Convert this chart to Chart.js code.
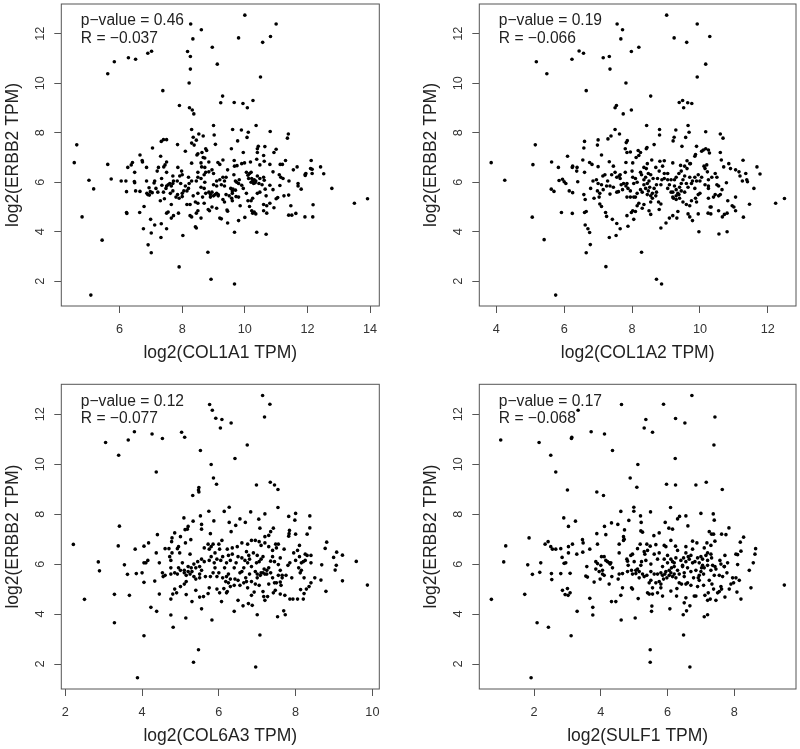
<!DOCTYPE html>
<html>
<head>
<meta charset="utf-8">
<script src="https://cdn.jsdelivr.net/npm/chart.js@4"></script>
<style>
body{margin:0;background:#fff;width:800px;height:749px;position:relative;overflow:hidden}
canvas{position:absolute}
</style>
</head>
<body>
<canvas id="c1" width="400" height="375" style="left:0;top:0"></canvas>
<canvas id="c2" width="400" height="375" style="left:400px;top:0"></canvas>
<canvas id="c3" width="400" height="374" style="left:0;top:375px"></canvas>
<canvas id="c4" width="400" height="374" style="left:400px;top:375px"></canvas>
<script>
// [gene TPM, ERBB2 TPM]
const col1a1 = [[10,12.75],[8.27,12.39],[8.61,12.16],[11,12.39],[10.82,11.89],[8.34,11.79],[9.8,11.83],[10.57,11.65],[8.96,11.45],[8.17,11.28],[8.26,11.08],[7.02,11.29],[6.9,11.21],[6.28,11.03],[6.51,10.97],[5.83,10.87],[9.12,10.77],[8.26,10.57],[5.62,10.38],[10.5,10.25],[8.22,10.01],[7.38,9.7],[9.29,9.48],[9.23,9.21],[9.66,9.22],[9.94,9.18],[10.26,9.3],[10.08,9.01],[7.91,9.1],[8.23,9.01],[8.32,8.92],[8.37,8.76],[9,8.29],[10.36,8.29],[9.61,8.13],[9.89,8.11],[8.3,8.13],[10.11,8.02],[10.81,8.05],[9.02,7.91],[8.53,7.95],[8.67,7.87],[8.35,7.82],[10.07,7.81],[11.39,7.95],[11.36,7.78],[9.77,7.67],
[8.3,7.58],[8.38,7.5],[8.45,7.7],[7.85,7.52],[7.33,7.65],[7.4,7.72],[7.5,7.72],[9.06,7.53],[10.43,7.45],[10.64,7.44],[10.4,7.35],[11,7.33],[9.57,7.35],[8.75,7.35],[8.78,7.28],[8.1,7.25],[8.5,7.15],[8.63,7.2],[9.95,7.2],[10.4,7.2],[10.93,7.2],[7.31,7.05],[8.47,7.1],[8.67,7],[8.72,6.98],[10.6,7.08],[10.38,6.93],[10.62,6.85],[9.66,6.88],[9.3,6.9],[9.14,6.8],[8.85,6.82],[8.3,6.77],[8.6,6.78],[7.5,6.82],[7.45,6.7],[7.41,6.62],[7.24,6.6],[7.86,6.6],[8.62,6.62],[8.72,6.6],[9.2,6.72],[9.67,6.65],[9.75,6.67],[9.9,6.75],[9.99,6.78],[10.18,6.82],[10.48,6.7],[10.8,6.72],[11.13,6.72],[11.2,6.72],[11.3,6.88],[11.67,6.62],[11.55,6.5],[12.12,6.88],[12.42,6.62],[12.1,6.55],[12.15,6.52],[11.93,6.32],[11.95,6.35],[12.15,6.35],[12.52,6.34],[12.78,5.75],[13.5,5.15],[13.92,5.33],[11.93,6.27],[11.41,6.05],[11.7,5.95],[11.7,5.85],[11.8,5.72],[11.1,6.3],[11.15,6.2],[11.22,6.15],[10.9,6.42],[10.62,6.08],[10.6,6.2],[10.48,6.15],[10.4,6.25],[10.3,6.1],[10.25,6.05],[10.22,6.15],[10.15,6.35],[10.05,6.4],[10.1,6.28],[10.2,6],[10.33,5.98],[10.45,5.95],[10.55,5.9],[10.8,5.88],[10.9,5.7],[11.12,5.87],[11.05,5.38],[11,5.33],[11.25,5.45],[11.4,5.48],[11.47,5.05],[11.4,4.67],[11.5,4.67],[11.63,4.74],[11.92,4.6],[12.17,4.6],[12.18,5.09],
[10.65,5.72],[10.68,5.45],[10.6,5.1],[10.7,5.05],[10.8,5.15],[10.93,4.97],[10.7,4.75],[10.6,4.85],[10.68,3.9],[10.38,3.98],[10.25,4.75],[10.3,4.8],[10.35,4.72],[10.22,4.85],[10.15,5.02],[10.1,5.25],[10.2,5.25],[10.25,5.35],[10.4,5.55],[10.48,5.6],[10.05,5.55],[9.95,5.75],[9.9,5.88],[9.82,6.1],[9.74,6],[9.8,5.95],[9.7,5.68],[9.62,5.72],[9.72,5.42],[9.8,5.4],[9.85,5.05],[9.6,5.25],[9.5,5.45],[9.58,5.35],[9.4,5.5],[9.3,5.3],[9.35,5.2],[9.43,4.88],[9.45,4.83],[9.45,4.35],[9.8,4.45],[10,4.58],[9.67,3.98],[9.25,4.52],[9.2,4.55],[9.1,4.95],[9,5.45],[9.1,5.55],[9.15,5.5],[8.95,5.6],[8.9,5.5],[8.85,5.6],[8.75,5.55],[8.65,5.4],[8.7,5.15],[8.83,4.9],[8.87,4.85],[8.95,5],[8.5,5.55],[8.5,5.15],[8.42,5.2],[8.5,4.85],[8.45,4.75],[8.6,4.55],[8.42,4.2],[8.45,4.15],[8.25,4.65],[8.3,4.6],[8.25,5.1],[8.15,5.1],[8.15,5.65],[8.2,5.75],[8.05,5.65],[8,5.55],[8,5.42],[7.9,5.35],[7.85,5.5],[7.8,5.4],[7.7,5.65],[7.65,5.85],[7.6,5.95],[7.55,5.9],[7.65,5.1],[7.55,4.8],[7.5,4.75],[7.65,4.55],[7.72,4.65],[7.88,4.75],[8.02,3.85],[7.9,2.58],[8.82,3.17],[8.92,2.08],[9.67,1.89],[7.5,4.12],[7.33,4.32],[7.32,3.77],[7.3,5.25],[7.43,5.33],[7.4,5.6],[7.48,5.75],[7.5,5.85],[7.35,5.88],[7.34,6.15],[7.5,6.4],[7.7,6.25],[7.72,6.05],[7.84,6.05],[7.92,6.25],[7.98,6.45],[8,6.3],[8.2,6.2],[8.22,5.95],[8.1,5.85],[8.3,6.05],[8.45,6.05],[8.5,6.2],[8.5,6.4],[8.7,6.3],[8.75,6.4],[8.85,6.42],[8.95,6.5],[8.72,6],[8.7,5.75],[8.6,5.8],[9.1,6.05],[9.2,6.1],[9.3,6.2],[9.35,6.05],[9.25,5.9],[9.1,5.85],[9,5.9],[9.45,6.5],[9.65,6.3],[9.7,6.05],[9.35,5.85],[9.55,5.75],[9.6,5.55],
[4.55,6.79],[4.63,7.51],[4.8,4.6],[5.02,6.08],[5.17,5.73],[5.44,3.66],[5.08,1.44],[5.62,6.72],[5.73,6.13],[6.05,6.05],[6.2,6.05],[6.22,5.62],[6.22,4.78],[6.23,4.74],[6.26,6.6],[6.37,6.7],[6.41,6.8],[6.48,6.4],[6.47,6.03],[6.48,5.98],[6.51,5.65],[6.65,7.1],[6.65,5.63],[6.64,4.78],[6.72,6.88],[6.73,6.82],[6.78,5.02],[6.76,4.12],[6.86,6.6],[6.86,6.05],[6.87,5.55],[6.9,5.5],[6.94,5.78],[6.95,5.48],[6.91,3.47],[6.98,5.62],[6.99,4.5],[7.01,3.95],[7.01,3.15],[7.04,5.58],[7.05,7.38],[7.12,6.05],[7.1,5.97],[7.12,4.27],[7.16,5.75],[7.2,6.45],[7.22,5.6],
[10.2,6.4],[10.35,6.05],[10.12,6.15],[10.28,5.95],[9.05,5.5],[9.15,5.45],[8.9,5.4],[9.4,6.2],[9.6,5.65],[9,6.35],[8.6,6.15],[8.35,5.45],[7.7,5.95],[7.62,5.55],[7.95,5.95]];

const col1a2 = [[9.02,12.75],[9.92,12.39],[7.56,12.39],[7.72,12.16],[7.67,11.79],[9.24,11.83],[10.29,11.89],[9.61,11.65],[8.2,11.45],[7.98,11.28],[6.44,11.3],[6.57,11.21],[6.23,10.97],[7.15,11.03],[7.33,11.08],[5.18,10.87],[10.17,10.77],[7.35,10.57],[5.49,10.38],[9.92,10.25],[7.82,10.01],[6.65,9.7],[8.55,9.48],[9.49,9.3],[9.39,9.22],[9.64,9.21],[9.76,9.18],[9.52,9.01],[7.54,9.1],[7.5,9.01],[7.98,8.92],[7.74,8.76],[9.65,8.29],[8.43,8.29],[8.81,8.13],[7.5,8.13],[9.29,8.11],[10.17,8.04],[9.68,8.02],[7.63,7.95],[8.81,7.91],[10.6,7.95],[7.38,7.87],[9.24,7.82],[10.68,7.78],[9.58,7.81],[7.29,7.75],[7,7.71],[6.6,7.65],[7.86,7.68],[9.21,7.67],[7.83,7.6],[8.65,7.52],[6.98,7.5],[5.15,7.51],[9.47,7.45],[9.9,7.45],[8.44,7.4],[8.42,7.35],[6.58,7.38],[7.8,7.35],[8.18,7.28],[8.25,7.2],[7.85,7.2],[7.95,7.22],[10.1,7.3],[10.17,7.35],[10.25,7.3],[10.28,7.18],[10.6,7.2],[9.87,7.12],[9.85,7.05],[10.05,7.25],[8.2,7.08],[8.12,7],[7.1,7.1],[6.1,7.05],[5.08,6.71],[3.85,6.79],[4.25,6.08],[5.63,6.82],[5.83,6.6],[6.55,6.9],[6.75,6.8],[6.82,6.72],[7,6.63],[7.33,6.83],[7.45,6.65],[7.82,6.8],[8.02,6.78],[8.58,6.9],[8.45,6.75],[8.35,6.6],[8.82,6.85],[8.95,6.87],[8.9,6.65],[9.2,6.78],[9.43,6.68],[9.62,6.87],[9.7,6.75],[10.12,6.65],[10.2,6.7],[10.63,6.9],[10.7,6.62],[10.85,6.75],[10.9,6.55],[11.05,6.5],[11.15,6.42],[11.27,6.89],[11.68,6.62],[11.77,6.33],[11.35,6.35],[11.38,6.1],[11.4,6.02],[11.25,6.05],[11.18,6.25],[11.59,5.75],[11.46,5.11],[11.28,4.59],[12.23,5.15],[12.49,5.34],
[6.25,6.65],[6.24,6.6],[6.38,6.6],[6.37,6.45],[6.6,6.4],[6.4,6.02],[5.85,6.07],[5.95,6.12],[6,6.02],[6.05,5.95],[5.62,5.72],[5.7,5.63],[5.92,4.78],[5.06,4.59],[5.41,3.68],[5.75,1.44],[6.15,5.65],[6.25,5.58],[6.24,4.74],[6.58,5.5],[6.62,5.3],[6.6,4.78],[6.65,4.82],[6.62,4.27],[6.7,4.12],[6.75,3.97],[6.77,3.48],[6.65,3.15],[7.23,2.59],[8.28,3.17],[8.72,2.08],[8.87,1.89],[6.78,5.75],[6.88,5.35],[6.85,6.05],[6.95,6.1],[6.98,5.65],[7.05,5.55],[7.03,5.4],[7.05,5.12],[7.1,5.02],[7.22,4.78],[7.25,4.62],[7.33,3.77],[7.42,4.5],[7.55,4.33],[7.53,3.85],[7.65,4.12],[7.14,6.25],[7.2,6.3],[7.15,5.7],[7.25,5.85],[7.35,5.52],[7.35,5.85],[7.4,6.3],[7.5,6.4],[7.45,5.8],[7.55,5.6],[7.6,5.62],[7.62,6.25],[7.65,6.15],[7.68,5.9],[7.75,5.95],[7.8,6.4],[7.82,5.85],[7.85,5.95],[7.88,5.75],[7.85,5.4],[7.95,5.4],[7.95,5.65],[8.05,5.4],[8,6.45],[8.1,6.15],[8.05,5.95],[8.15,6],[8.25,6.4],[8.28,6.3],[8.35,6.1],[8.25,5.7],[8.1,5.4],[8.2,5.15],[8.02,4.85],[7.98,4.78],[8.1,4.82],[8.05,4.5],[7.85,4.65],[7.88,4.22],[8.15,5.05],[8.3,4.95],[8.35,5.1],[8.5,4.85],[8.55,4.7],[8.55,5.2],[8.45,5.5],[8.48,5.65],[8.55,5.45],[8.6,5.35],[8.7,5.45],[8.72,5.6],[8.78,5.2],[8.85,5.12],[8.8,4.9],[8.85,4.15],[9,4.35],[9.1,4.55],[9.2,4.65],[9.32,4.55],[9.35,4.82],[9.2,5.4],[9.3,5.45],[9.35,5.55],[9.4,5.35],[9.45,5.65],[9.5,5.2],[9.6,5.1],[9.7,5.05],[9.75,5.25],[9.65,4.72],[9.7,4.6],[9.78,4.45],[9.95,4.72],[9.97,4],[10.24,4.75],[10.32,4.72],[10.3,5],[10.33,5],[10.25,5.35],[10.4,5.4],[10.45,5.5],[10.55,5.45],[10.55,4.85],[10.66,4.6],[10.72,4.7],[10.8,4.75],[10.56,3.91],[10.8,4],[10.82,5.25],[10.95,5.05],[11,5],[11.05,4.85],[10.65,5.7],[10.78,5.98],[10.5,5.9],[10.55,5.85],[10.25,5.75],[10.25,6.1],[10.35,6.2],[10.45,6.35],[10.15,6.55],[10.22,6.42],[10.05,6.2],[9.95,6.3],[9.9,6.05],[9.78,6.05],[9.7,6.2],[9.55,6.25],[9.45,6.45],[9.38,6.35],[9.3,6.2],[9.25,6.1],[9.15,6.1],[9.05,6.35],[8.95,6.35],[8.88,6.1],[8.85,5.9],[8.75,6.15],[8.62,6.15],[8.55,6.3],[8.48,6.35],[8.42,6.55],[9.05,5.75],[9.15,5.6],[9.25,5.85],[9.3,5.7],[9.4,5.8],[9.55,5.6],[9.65,5.8],[9.75,5.95],[9.85,5.75],[9.95,5.5],[10,5.55],[9.9,5.2],[9.87,5.35],
[8.4,5.75],[8.45,5.95],[8.5,6.05],[8.52,5.8],[8.6,5.55],[8.65,5.75],[8.72,5.9],[8.4,6.2],[8.35,5.9],[8.3,5.6],[8.15,5.55],[8.7,6.6],[8.8,6.45],[8.95,6.15],[9.05,6.1],[9.1,5.9],[9.2,5.6],[9.3,5.3],[9.22,5.35],[9.38,5.5],[9.45,5.95],[9.5,6.1],[9.6,5.95],[9.62,6.55],[9.55,6.65],[9.72,6.75],[9.85,6.2],[10,6.05],[10.15,5.9],[10.25,5.85],[7,5.95],[7.1,5.9],[7.28,6.05],[7.55,6.2],[7.65,6.3],[7.72,5.7],[8.02,6.2],[10.5,6.2],[10.6,5.5],[11.05,5.4]];

const col6a3 = [[7.14,12.75],[7.33,12.4],[7.19,11.89],[5.76,12.39],[5.83,12.16],[5.92,11.84],[6.08,11.79],[6.32,11.65],[6.04,11.45],[5.03,11.28],[5.11,11.08],[3.8,11.3],[4.26,11.21],[4.53,11.03],[3.64,10.97],[3.05,10.87],[6.74,10.77],[5.52,10.55],[3.39,10.36],[6.42,10.23],[5.8,9.99],[4.37,9.69],[5.86,9.45],[5.94,9.2],[6.98,9.17],[7.34,9.28],[7.45,9.17],[7.54,8.99],[5.48,9.07],[5.47,8.97],[5.48,8.89],[5.32,8.75],[6.27,8.28],[7.54,8.27],[5.74,8.12],[6.14,8.11],[6.83,8.09],[8,8.03],[7.2,8.01],[5.52,7.93],[7.82,7.91],[8.37,7.93],[5.09,7.85],[7.04,7.8],[7.98,7.76],[6.55,7.81],[5.87,7.73],[5.33,7.72],[6.27,7.67],[6.69,7.67],[6.44,7.55],[3.41,7.52],[5.55,7.59],[5.2,7.51],[8.37,7.45],[7.42,7.44],[7.07,7.44],[5.12,7.38],[5.18,7.4],[5.55,7.4],[7.84,7.35],[7.83,7.22],[7.82,7.12],[8,7.2],[8.3,7.2],[7.35,7.3],[7.3,7.15],[7.2,7.1],[6.32,7.3],[5.78,7.22],[4.4,7.18],[4.85,7.25],[4.78,7.05],[5,7.1],[4.77,6.9],[5.27,6.98],[5.13,6.85],[6.08,6.95],[4.17,6.85],[4.05,6.72],[3.38,6.73],[3.82,6.6],[2.21,6.79],[2.86,6.09],[2.89,5.73],[2.5,4.59],[3.28,4.79],[3.28,3.65],[3.54,5.97],[3.62,5.59],[3.67,4.75],[3.88,1.45],[4.05,3.13],[4.23,4.27],[4.38,4.11],[4.75,3.96],[4.81,3.47],[5.14,3.84],[5.47,2.57],[5.34,2.07],[5.82,3.76],[6.96,1.88],[7.07,3.16],[7,3.97],[7.53,3.89],[7.69,4.13],[7.73,3.97],[6.4,4.11],[5.55,4.21],[9.87,5.16],[9.58,6.11],[9.22,5.33],[9.22,6.36],[9.07,6.48],[8.81,6.88],[8.77,6.63],[8.79,4.91],[8.66,5.36],[8.68,5.97],[8.99,6.27],[9.06,5.95],[9.03,5.76],
[3.85,5.62],[4,5.65],[4.05,5.27],[4.05,6.05],[4.1,6.05],[4.15,6.15],[4.37,6.45],[4.33,5.32],[4.45,6.05],[4.53,5.65],[4.55,5.5],[4.45,4.8],[4.6,5.55],[4.6,6.62],[4.7,6.62],[4.72,6.3],[4.75,6.15],[4.78,6.45],[4.75,5.85],[4.75,5.6],[4.85,5.65],[4.92,5.6],[4.95,6.7],[4.92,6.62],[4.98,6.45],[5,5.75],[5.1,5.65],[5.15,5.55],[4.75,4.6],[4.8,4.8],[4.85,5],[4.9,4.85],[5,5.1],[5.1,5.2],[5.15,5.3],[5.15,4.78],[5.3,4.5],[5.4,4.95],[5.5,4.68],[5.6,4.7],[5.72,4.82],[5.75,5.05],[5.95,5],[6.02,4.85],[6.07,4.5],[6.13,5.02],[6.2,4.85],[6.22,4.9],[6.5,4.55],[6.63,4.33],[6.77,4.42],[6.87,4.35],[6.85,4.75],[6.75,5.05],[6.65,5.25],[6.72,5.3],[6.92,4.88],[7.2,4.55],[7.17,4.7],[7.15,4.9],[7.27,4.7],[7.42,4.85],[7.47,4.95],[7.6,4.8],[7.72,4.75],[7.85,4.6],[7.93,4.6],[8.05,4.6],[8.2,4.6],[8.28,5],[8.13,4.98],[8.22,4.82],[8.35,5.1],[8.4,5.25],[8.5,5.45],[8.22,5.45],[8.15,5.75],[8.08,5.85],[8.15,6.05],[8.25,6.15],[8.3,6.35],[8.4,6.35],[8.4,6.05],[8.1,6.3],[8.05,6.55],[8.1,6.75],[7.95,6.45],[7.85,6.05],[7.9,5.45],[7.75,5.55],[7.65,5.45],[7.62,5.15],[7.6,5.28],[7.5,5.25],[7.45,5.25],[7.4,5.45],[7.3,5.85],[7.25,5.75],[7.2,5.6],[7.1,5.65],[7,5.6],[7,5.45],[6.95,5.7],[6.85,5.9],[6.75,6.05],[6.65,5.85],[6.6,5.7],[6.7,5.45],[6.5,5.35],[6.4,5.15],[6.3,5.4],[6.25,5.6],[6.18,5.3],[6.1,5.45],[5.95,5.5],[5.85,5.65],[5.78,5.5],[5.65,5.5],[5.55,5.75],[5.5,5.6],[5.4,5.4],[5.3,5.7],[5.28,5.85],[5.2,5.9],[5.35,6],[5.45,6.1],[5.55,6.2],[5.25,6.4],[5.62,6.65],[5.72,6.8],[5.8,6.7],[5.9,6.45],[6.02,6.6],[6,6.8],[6.22,6.6],[6.35,6.4],[6.3,6.15],[6.45,6.05],[6.48,6.7],[6.6,6.85],[6.72,6.5],[6.85,6.95],[6.95,6.95],[7.05,6.9],[7.1,6.75],[7.15,6.3],[7.1,6.2],[6.9,6.45],[6.8,6.2],[6.68,6.15],[6.98,6.05],[7.2,6.85],[7.3,6.7],[7.4,6.55],[7.48,6.8],[7.55,6.8],[7.4,6.3],[7.35,6.12],[7.45,6.1],[7.55,5.98],[7.8,5.95],[7.65,5.55],[5.8,6.3],[5.88,6.05],[6.05,6.15],[6.15,5.85],[6.4,5.85],[6.55,5.65],[6.8,5.6],[7.08,5.55],[7.18,5.8],
[5.4,5.85],[5.5,5.9],[5.62,6.1],[5.75,6.15],[5.95,6.2],[6.1,6.3],[6.25,6.35],[6.35,6.65],[6.5,6.3],[6.6,6.25],[6.75,6.8],[6.78,6.35],[7,6.35],[7.05,6.1],[6.2,5.5],[6.25,5.25],[6.3,5.1],[6.42,5.4],[6.55,5.15],[6.85,5.3],[6.95,5.2],[7.05,5.15],[7.15,5.65],[7.25,5.6],[7.3,5.2],[7.35,5.65],[7.55,5.55],[7.6,5.75],[5.1,5.75],[5.2,5.7],[5.25,5.6],[5.35,5.5],[5.5,5.45],[5.9,5.85],[6,5.65],[6.2,6.05],[4.95,5.85],[5.05,6.05],[5.75,6.6],[5.85,6.8],[7.7,6.6],[7.6,6.25],[7.5,6.65],[8,6.15],[8.12,5.65],[8.2,6.1],[8.25,6.4]];

const sulf1 = [[6.73,12.75],[5.88,12.4],[4.62,12.39],[3.32,12.16],[7.42,11.89],[5.35,11.79],[6.24,11.83],[6.52,11.65],[5.3,11.45],[5.55,11.28],[3.71,11.3],[4.11,11.21],[3.13,11.08],[3.12,11.03],[1,10.97],[2.15,10.87],[7.39,10.77],[4.35,10.55],[2.5,10.36],[6.23,10.23],[5.11,9.99],[2.65,9.69],[4.88,9.45],[5.97,9.2],[6.24,9.17],[6.85,9.17],[7.16,9.28],[5.08,9.08],[7.64,8.99],[3,8.97],[3.88,8.89],[4.08,8.75],[4.99,8.28],[4.99,8.12],[6.09,8.27],[4.6,8.11],[5.49,8.09],[7,8.03],[7.37,8.01],[5.19,7.93],[6.55,7.93],[6.3,7.81],[6.36,7.91],[7.4,7.76],[2.89,7.85],[3.24,7.72],[4.84,7.75],[4.32,7.65],[4.51,7.59],[5.21,7.67],[3.03,7.51],[4.11,7.51],[4.71,7.37],[5.93,7.67],[6.04,7.44],[6.15,7.4],[6.61,7.53],[7.84,7.45],[5.2,7.33],[5.25,7.28],[7.25,7.3],[7.32,7.2],[7.38,7.2],[7.62,7.2],[7.75,7.18],[8.28,7.08],[8.18,6.88],[5.59,7.14],[5.75,7.25],[3.88,7.22],[4.15,7.18],[4.68,7.1],[4.7,7],[4.68,6.95],[1.85,7.05],[2.42,6.9],[2.33,6.8],[3.45,6.98],[3.47,6.85],[3.15,6.8],[3.03,6.7],[2.5,6.7],[2.55,6.6],[2.65,6.6],[2.8,6.62],[3.67,6.6],[3.28,6.4],[3.46,6.48],[3.03,6.45],[2.84,6.27],[2.9,6.03],[2.95,6.05],[1.09,6.09],[1.15,6.73],[1.81,5.97],[1.95,5.59],[2.2,6.05],[2.17,5.67],[2.52,5.62],[2.53,5.38],[2.8,5.62],[3.08,5.63],[1.72,4.79],[2.85,4.95],[2.93,4.78],[3,5.02],[3.02,4.75],[3.08,4.85],[0.72,4.59],[1.91,1.45],[2.09,3.65],[2.43,3.47],[3.11,3.13],[3.29,4.11],[3.76,4.27],[3.67,4.63],[3.76,3.96],[4.61,3.76],[5.03,3.84],[5.48,2.57],[5.48,2.07],[6.67,1.88],[6.48,3.16],[6.47,3.97],[6.57,4.13],[6.67,4.33],[6.07,4.21],[5.52,4.11],[5.53,4.32],[7.1,3.89],[7.2,3.97],[9.5,5.16],[8.64,6.62],[8.62,6.4],[8.57,6.05],[8.45,5.75],[8.5,5.05],[8.2,4.6],[8.08,4.88],[8.15,5.35],[8.05,5.45],[7.95,5.45],[7.98,5.25],[7.9,5.2],[7.85,5],[7.72,4.68],[7.6,5.1],[7.5,4.85],[7.78,5.65],[7.7,5.9],[7.72,6.35],[7.42,6.92],[8.1,6.38],[8.2,6.52],[8.1,5.98],
[3.58,5.9],[3.55,5.52],[3.6,5.48],[3.8,5.28],[3.85,5.8],[3.85,6.1],[3.9,6.02],[3.9,6.8],[3.95,5.7],[3.98,5.4],[4.02,6.3],[4.05,5.75],[4.1,6.3],[4.05,5.6],[4.15,6.15],[4.2,6.1],[4.25,5.2],[4.28,6],[4.3,6.05],[4.35,5.85],[4.33,5.5],[4.32,4.5],[4.45,4.5],[4.52,5.4],[4.55,5.6],[4.55,6.45],[4.55,6.8],[4.6,4.75],[4.65,5.05],[4.65,5.62],[4.78,6.2],[4.8,6.12],[4.82,5.95],[4.92,5.75],[4.9,6.35],[4.95,6.4],[4.92,5.05],[4.95,5],[5.05,5.62],[5.1,5.8],[5.15,5.7],[5.12,4.62],[5.1,6.62],[5.18,6.8],[5.25,5.6],[5.22,6.1],[5.3,6.5],[5.32,6.4],[5.38,6.8],[5.35,6.15],[5.38,5.55],[5.4,4.85],[5.45,4.8],[5.45,5.25],[5.5,5.35],[5.5,5.7],[5.48,6.72],[5.55,5.05],[5.55,4.8],[5.65,6.78],[5.7,4.85],[5.7,6.2],[5.75,6.45],[5.75,5.3],[5.8,5.05],[5.8,5.2],[5.85,5.9],[5.85,4.72],[5.9,6.75],[5.92,5.6],[5.95,6.7],[5.98,5.45],[6,6.35],[6.05,5.55],[6.1,6.95],[6.12,5.85],[6.1,4.92],[6.15,6.1],[6.2,5.9],[6.24,6.72],[6.25,5.45],[6.25,6.25],[6.28,5.02],[6.27,4.72],[6.35,5.25],[6.42,5.2],[6.48,6.25],[6.5,5.65],[6.5,4.45],[6.55,6.7],[6.55,6.45],[6.55,5.2],[6.55,4.65],[6.62,6.3],[6.7,5.7],[6.75,6.92],[6.75,6.6],[6.75,6.05],[6.78,5.45],[6.8,4.72],[6.85,4.72],[6.88,6.85],[6.9,6.25],[6.92,5.45],[6.9,5.1],[6.95,5.35],[7,6.3],[7.02,5.85],[7.05,5.95],[7.08,5.6],[7.1,6.65],[7.08,5.15],[7.12,4.75],[7.18,6.85],[7.2,6.45],[7.2,5.95],[7.22,4.85],[7.2,4.55],[7.25,5.35],[7.28,4.6],[7.3,6.75],[7.3,6.4],[7.32,6.25],[7.33,5.2],[7.38,5],[7.42,5.9],[7.45,4.55],[7.55,5.55],[7.57,6.15],[7.6,6],[7.65,5.5],[7.62,5],[7.7,5.9],[7.55,4.9],[6.3,5.75],[6.45,5.95],[6.6,5.85],[6.2,6.05],[6,6.05],[5.95,5.7],[5.7,5.6],[5.6,6.4],[5.5,6],[5.2,5.95],[5,6.1],[4.8,5.7],[6.35,5.6],[6.85,5.75],[6.55,6.1],[7.05,6.2],
[6.1,5.65],[6.15,5.5],[6.2,5.6],[5.85,5.55],[5.88,5.4],[6.05,5.75],[6.1,6.2],[6.3,6.55],[6.4,6.15],[6.45,5.9],[6.65,6.2],[6.7,6.35],[6.82,6.1],[6.95,6.05],[7,5.7],[6.95,5.55],[7.1,5.85],[7.15,6.35],[7.2,6.15],[7.35,5.95],[7.4,5.55],[5.4,6.55],[5.3,5.5],[5.15,5.45],[5.05,5.75],[4.95,5.6],[5.6,5.6],[5.65,5.25],[5.8,5.65],[5.9,6.2],[6.5,5.5],[6.6,5.25],[6.7,5.15],[7.3,5.75],[7.45,5.8],[7.8,6.05],[8.05,6.4],[4.1,5.55],[4,5.95],[4.25,6.05]];

const erbb2Label = 'log2(ERBB2 TPM)';
const geneLabels = ['log2(COL1A1 TPM)', 'log2(COL1A2 TPM)', 'log2(COL6A3 TPM)', 'log2(SULF1 TPM)'];
const pValues = ['p\u2212value = 0.46', 'p\u2212value = 0.19', 'p\u2212value = 0.12', 'p\u2212value = 0.17'];
const rValues = ['R = \u22120.037', 'R = \u22120.066', 'R = \u22120.077', 'R = \u22120.068'];
const xRanges = [[4.136, 14.296], [3.5, 12.83], [1.896, 10.18], [0.358, 9.85]];
const xTicks = [[6, 8, 10, 12, 14], [4, 6, 8, 10, 12], [2, 4, 6, 8, 10], [2, 4, 6, 8]];
const yTicks = [2, 4, 6, 8, 10, 12];

const FONT = '"Liberation Sans", Arial, sans-serif';
const INK = '#333';

function panel(id, points, i, box) {
  const note = {
    id: 'note',
    beforeDraw(c) {
      const a = c.chartArea;
      c.ctx.save();
      c.ctx.strokeStyle = '#555';
      c.ctx.lineWidth = 1;
      c.ctx.strokeRect(a.left, a.top, a.right - a.left, a.bottom - a.top);
      c.ctx.restore();
    },
    afterDatasetsDraw(c) {
      const a = c.chartArea;
      const ctx = c.ctx;
      ctx.save();
      ctx.fillStyle = '#222';
      ctx.font = '15.6px ' + FONT;
      ctx.textBaseline = 'middle';
      ctx.fillText(pValues[i], a.left + 19.5, a.top + 17);
      ctx.fillText(rValues[i], a.left + 19.5, a.top + 34.5);
      ctx.restore();
    }
  };
  new Chart(document.getElementById(id), {
    type: 'scatter',
    data: {datasets: [{data: points.map(p => ({x: p[0], y: p[1]})), backgroundColor: '#000', borderWidth: 0, pointRadius: 1.8}]},
    options: {
      responsive: false,
      animation: false,
      layout: {padding: {top: box.top, right: box.right, left: 0, bottom: 0}},
      plugins: {legend: {display: false}, tooltip: {enabled: false}},
      scales: {
        x: {
          min: xRanges[i][0], max: xRanges[i][1],
          // the tick labels must not push the box inwards
          afterFit: s => { s.height = box.bottom; s.paddingLeft = 0; s.paddingRight = 0; },
          afterBuildTicks: s => { s.ticks = xTicks[i].map(v => ({value: v})); },
          border: {display: false},
          grid: {drawOnChartArea: false, color: '#555', tickLength: 7},
          ticks: {color: INK, font: {family: FONT, size: 12.7}, padding: 9, autoSkip: false, maxRotation: 0},
          title: {display: true, text: geneLabels[i], color: '#222', font: {family: FONT, size: 17.5}, padding: {top: 0, bottom: box.titleBottom}}
        },
        y: {
          min: 1, max: 13.2,
          afterFit: s => { s.width = box.left; s.paddingTop = 0; s.paddingBottom = 0; },
          afterBuildTicks: s => { s.ticks = yTicks.map(v => ({value: v})); },
          border: {display: false},
          grid: {drawOnChartArea: false, color: '#555', tickLength: 7},
          ticks: {color: INK, font: {family: FONT, size: 12.7}, padding: 7, autoSkip: false, minRotation: 90, maxRotation: 90, crossAlign: 'center'},
          title: {display: true, text: erbb2Label, color: '#222', font: {family: FONT, size: 17.5}, padding: {top: box.left - 59, bottom: 0}}
        }
      }
    },
    plugins: [note]
  });
}

panel('c1', col1a1, 0, {left: 61.3, right: 20.7, top: 1.3, bottom: 69, titleBottom: 11});
panel('c2', col1a2, 1, {left: 79.3, right: 2.7, top: 1.3, bottom: 69, titleBottom: 11});
panel('c3', col6a3, 2, {left: 61.3, right: 20.7, top: 9.3, bottom: 60, titleBottom: 2});
panel('c4', sulf1, 3, {left: 79.3, right: 2.7, top: 9.3, bottom: 60, titleBottom: 2});
</script>
</body>
</html>
